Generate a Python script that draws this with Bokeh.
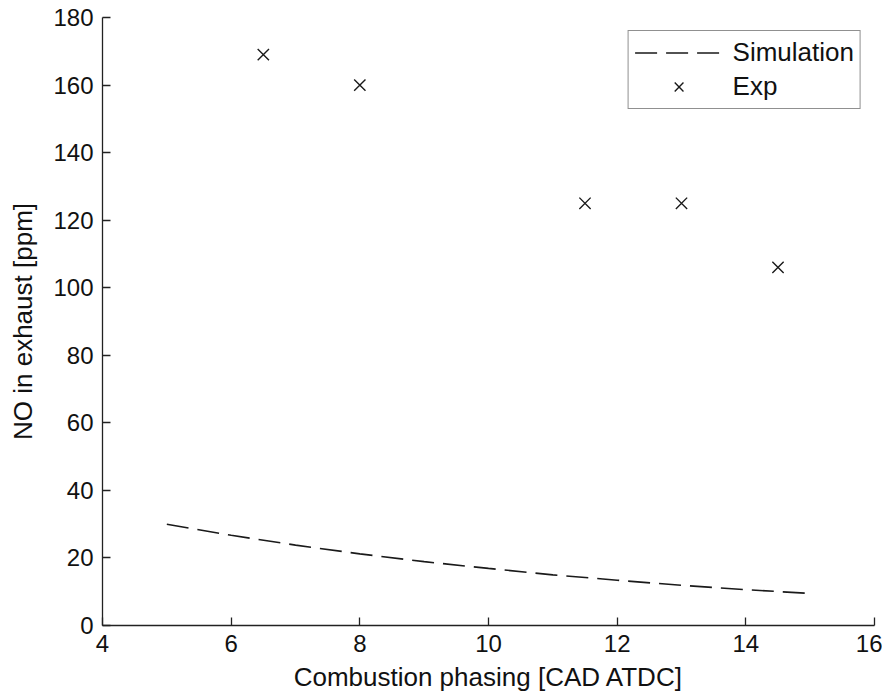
from bokeh.plotting import figure
from bokeh.models import FixedTicker, Range1d, Legend, LegendItem
from bokeh.embed import file_html
from bokeh.resources import INLINE

# Simulation curve
sim_x = [5, 6, 7, 8, 9, 10, 11, 12, 13, 14, 15]
sim_y = [30.0, 26.7, 23.8, 21.2, 18.9, 16.9, 15.0, 13.4, 11.9, 10.6, 9.5]

# Experimental points
exp_x = [6.5, 8.0, 11.5, 13.0, 14.5]
exp_y = [169, 160, 125, 125, 106]

x_ticks = [4, 6, 8, 10, 12, 14, 16]
y_ticks = [0, 20, 40, 60, 80, 100, 120, 140, 160, 180]

FONT = "Liberation Sans"
TICK_FS = "24px"
LABEL_FS = "26px"

p = figure(width=882, height=695, output_backend="svg", toolbar_location=None,
           x_range=Range1d(4, 16), y_range=Range1d(0, 180),
           min_border_left=102, min_border_right=8, min_border_top=17, min_border_bottom=70)
p.outline_line_color = None
p.xgrid.visible = False
p.ygrid.visible = False
p.background_fill_color = "white"
p.border_fill_color = "white"

sim = p.line(sim_x, sim_y, line_color="#1a1a1a", line_width=1.6, line_dash="22 9")
exp = p.scatter(exp_x, exp_y, marker="x", size=16, line_color="#1a1a1a", line_width=1.4)

p.xaxis.ticker = FixedTicker(ticks=x_ticks)
p.yaxis.ticker = FixedTicker(ticks=y_ticks)
p.xaxis.axis_label = "Combustion phasing [CAD ATDC]"
p.yaxis.axis_label = "NO in exhaust [ppm]"

for ax in (p.xaxis[0], p.yaxis[0]):
    ax.axis_line_color = "#222222"
    ax.axis_line_width = 1.3
    ax.major_tick_line_color = "#222222"
    ax.major_tick_line_width = 1.3
    ax.major_tick_in = 8
    ax.major_tick_out = 0
    ax.minor_tick_line_color = None
    ax.major_label_text_font = FONT
    ax.major_label_text_font_size = TICK_FS
    ax.major_label_text_color = "#111111"
    ax.axis_label_text_font = FONT
    ax.axis_label_text_font_size = LABEL_FS
    ax.axis_label_text_font_style = "normal"
    ax.axis_label_text_color = "#111111"
    ax.major_label_standoff = 9

p.xaxis[0].axis_label_standoff = 7
p.yaxis[0].axis_label_standoff = 12

legend = Legend(items=[LegendItem(label="Simulation", renderers=[sim]),
                       LegendItem(label="Exp", renderers=[exp])],
                location="top_right")
legend.border_line_color = "#222222"
legend.border_line_width = 1.3
legend.padding = 6
legend.margin = 13
legend.spacing = 3
legend.glyph_width = 88
legend.glyph_height = 31
legend.label_height = 31
legend.label_standoff = 10
legend.label_text_font = FONT
legend.label_text_font_size = LABEL_FS
legend.label_text_color = "#111111"
legend.background_fill_alpha = 1.0
p.add_layout(legend)

open("out.html", "w").write(file_html(p, INLINE))
